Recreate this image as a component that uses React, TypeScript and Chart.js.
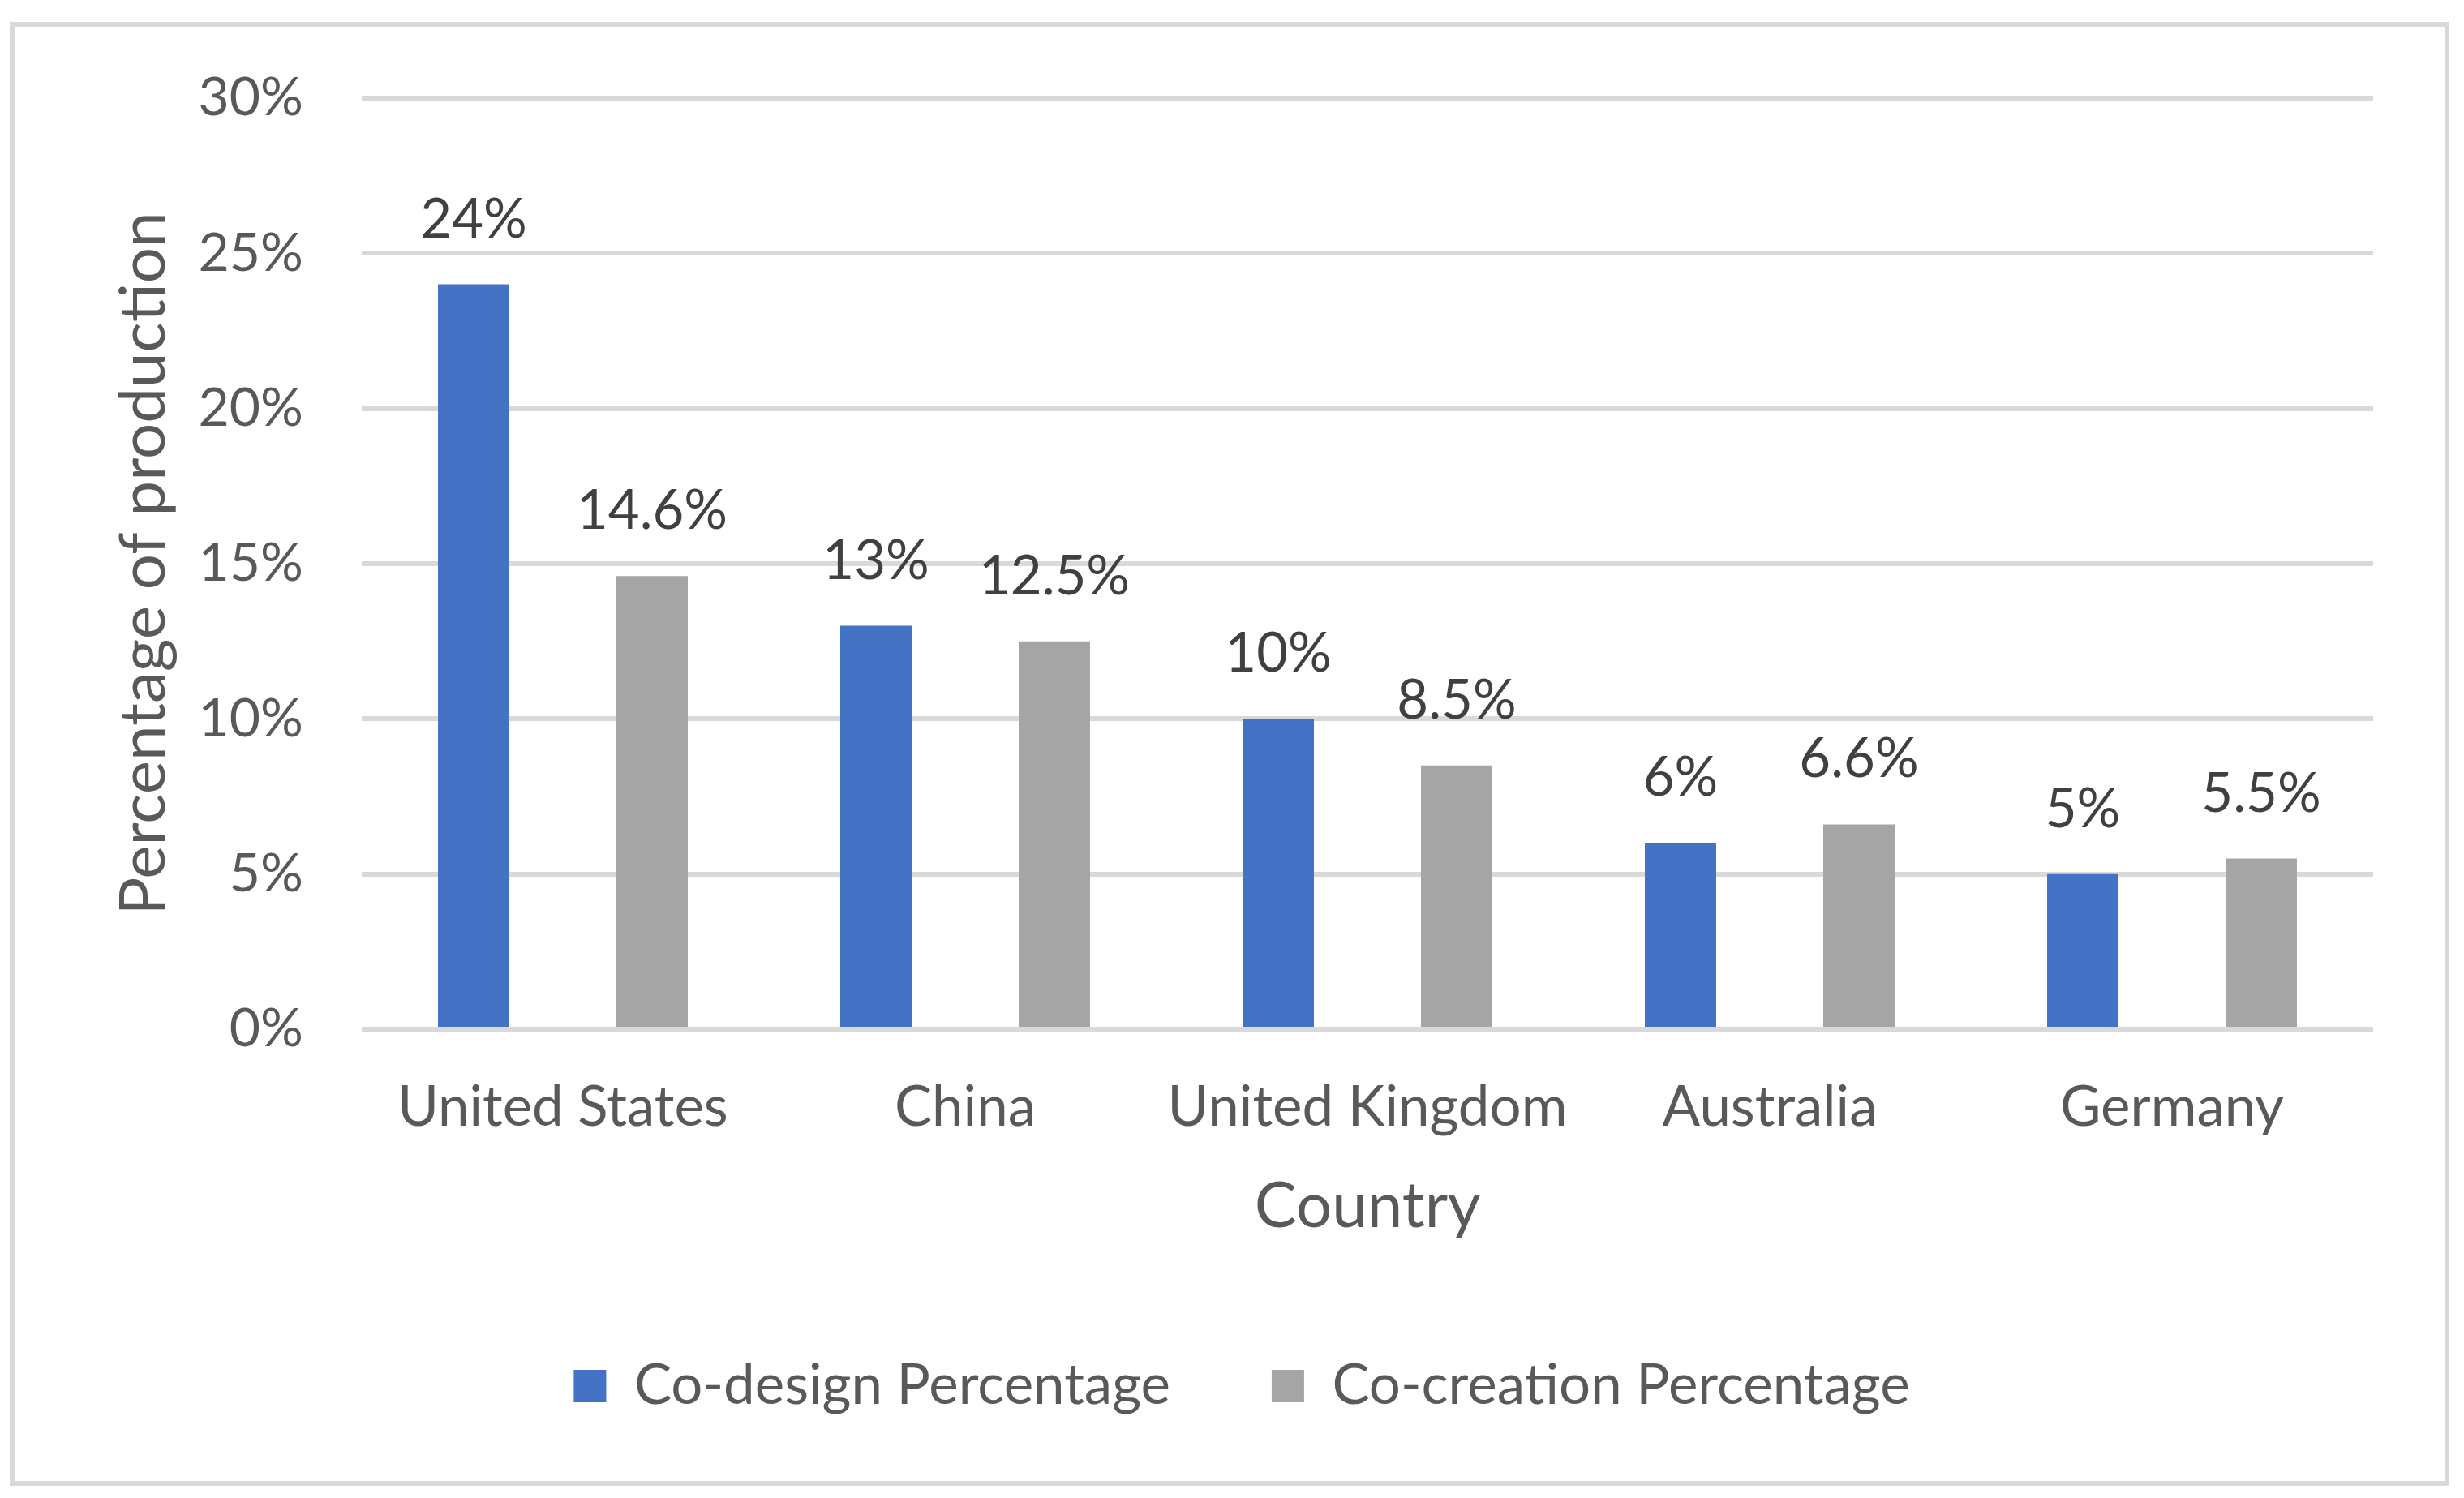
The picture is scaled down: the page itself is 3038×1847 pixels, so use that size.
import React, { useEffect, useRef } from "react";
import { Chart, registerables } from "chart.js";

Chart.register(...registerables);

const categories = ["United States", "China", "United Kingdom", "Australia", "Germany"];
const coDesign = [24, 13, 10, 6, 5];
const coCreation = [14.6, 12.5, 8.5, 6.6, 5.5];
const seriesNames = ["Co-design Percentage", "Co-creation Percentage"];
const seriesColors = ["#4472C4", "#A5A5A5"];
const yMin = 0;
const yMax = 30;
const yStep = 5;
const yTitle = "Percentage of production";
const xTitle = "Country";

const FONT = "Lato, 'Open Sans', sans-serif";
const TEXT = "#595959";
const GRID = "#D9D9D9";

const framePlugin = {
  id: "frame",
  beforeDraw(chart: any) {
    const ctx = chart.ctx;
    ctx.save();
    ctx.fillStyle = "#ffffff";
    ctx.fillRect(0, 0, chart.width, chart.height);
    ctx.strokeStyle = GRID;
    ctx.lineWidth = 6;
    ctx.strokeRect(15, 30, chart.width - 36, chart.height - 48);
    ctx.restore();
  },
};

const labelPlugin = {
  id: "valueLabels",
  afterDatasetsDraw(chart: any) {
    const ctx = chart.ctx;
    ctx.save();
    ctx.font = `67px ${FONT}`;
    ctx.fillStyle = "#404040";
    ctx.textAlign = "center";
    ctx.textBaseline = "alphabetic";
    chart.data.datasets.forEach((ds: any, i: number) => {
      const meta = chart.getDatasetMeta(i);
      meta.data.forEach((el: any, j: number) => {
        ctx.fillText(`${ds.data[j]}%`, el.x, el.y - 58);
      });
    });
    ctx.restore();
  },
};

export default function App() {
  const ref = useRef<HTMLCanvasElement | null>(null);

  useEffect(() => {
    if (!ref.current) return;
    const chart = new Chart(ref.current, {
      type: "bar",
      data: {
        labels: categories,
        datasets: [
          {
            label: seriesNames[0],
            data: coDesign,
            backgroundColor: seriesColors[0],
            categoryPercentage: 0.887,
            barPercentage: 0.4,
          },
          {
            label: seriesNames[1],
            data: coCreation,
            backgroundColor: seriesColors[1],
            categoryPercentage: 0.887,
            barPercentage: 0.4,
          },
        ],
      },
      options: {
        animation: false,
        responsive: true,
        maintainAspectRatio: false,
        devicePixelRatio: 1,
        layout: { padding: { left: 24, right: 0, top: 121, bottom: 93.5 } },
        plugins: {
          tooltip: { enabled: false },
          legend: {
            position: "bottom",
            labels: {
              boxWidth: 40,
              boxHeight: 40,
              padding: 125,
              color: TEXT,
              font: { family: FONT, size: 69 },
            },
          },
        },
        scales: {
          x: {
            grid: { display: false, drawTicks: false },
            border: { display: false },
            ticks: {
              color: TEXT,
              font: { family: FONT, size: 69 },
              padding: 55.6,
              maxRotation: 0,
            },
            title: {
              display: true,
              text: xTitle,
              color: TEXT,
              font: { family: FONT, size: 78 },
              padding: { top: 0, bottom: 14.7 },
            },
            afterFit: (scale: any) => {
              scale.height = 280.5;
            },
          },
          y: {
            min: yMin,
            max: yMax,
            grid: { color: GRID, lineWidth: 6, drawTicks: false },
            border: { display: false },
            ticks: {
              stepSize: yStep,
              color: TEXT,
              font: { family: FONT, size: 66 },
              padding: 72,
              callback: (v: any) => `${v}%`,
            },
            title: {
              display: true,
              text: yTitle,
              color: TEXT,
              font: { family: FONT, size: 78 },
              padding: { top: 107, bottom: 0 },
            },
            afterFit: (scale: any) => {
              scale.width = 422;
            },
          },
          spacer: {
            type: "linear",
            position: "right",
            display: true,
            grid: { display: false, drawTicks: false },
            border: { display: false },
            ticks: { display: false },
            afterFit: (scale: any) => {
              scale.width = 112;
            },
          },
        },
      },
      plugins: [framePlugin, labelPlugin],
    });
    return () => chart.destroy();
  }, []);

  return (
    <div style={{ position: "absolute", left: 0, top: 0, width: 3038, height: 1847 }}>
      <canvas ref={ref} />
    </div>
  );
}
